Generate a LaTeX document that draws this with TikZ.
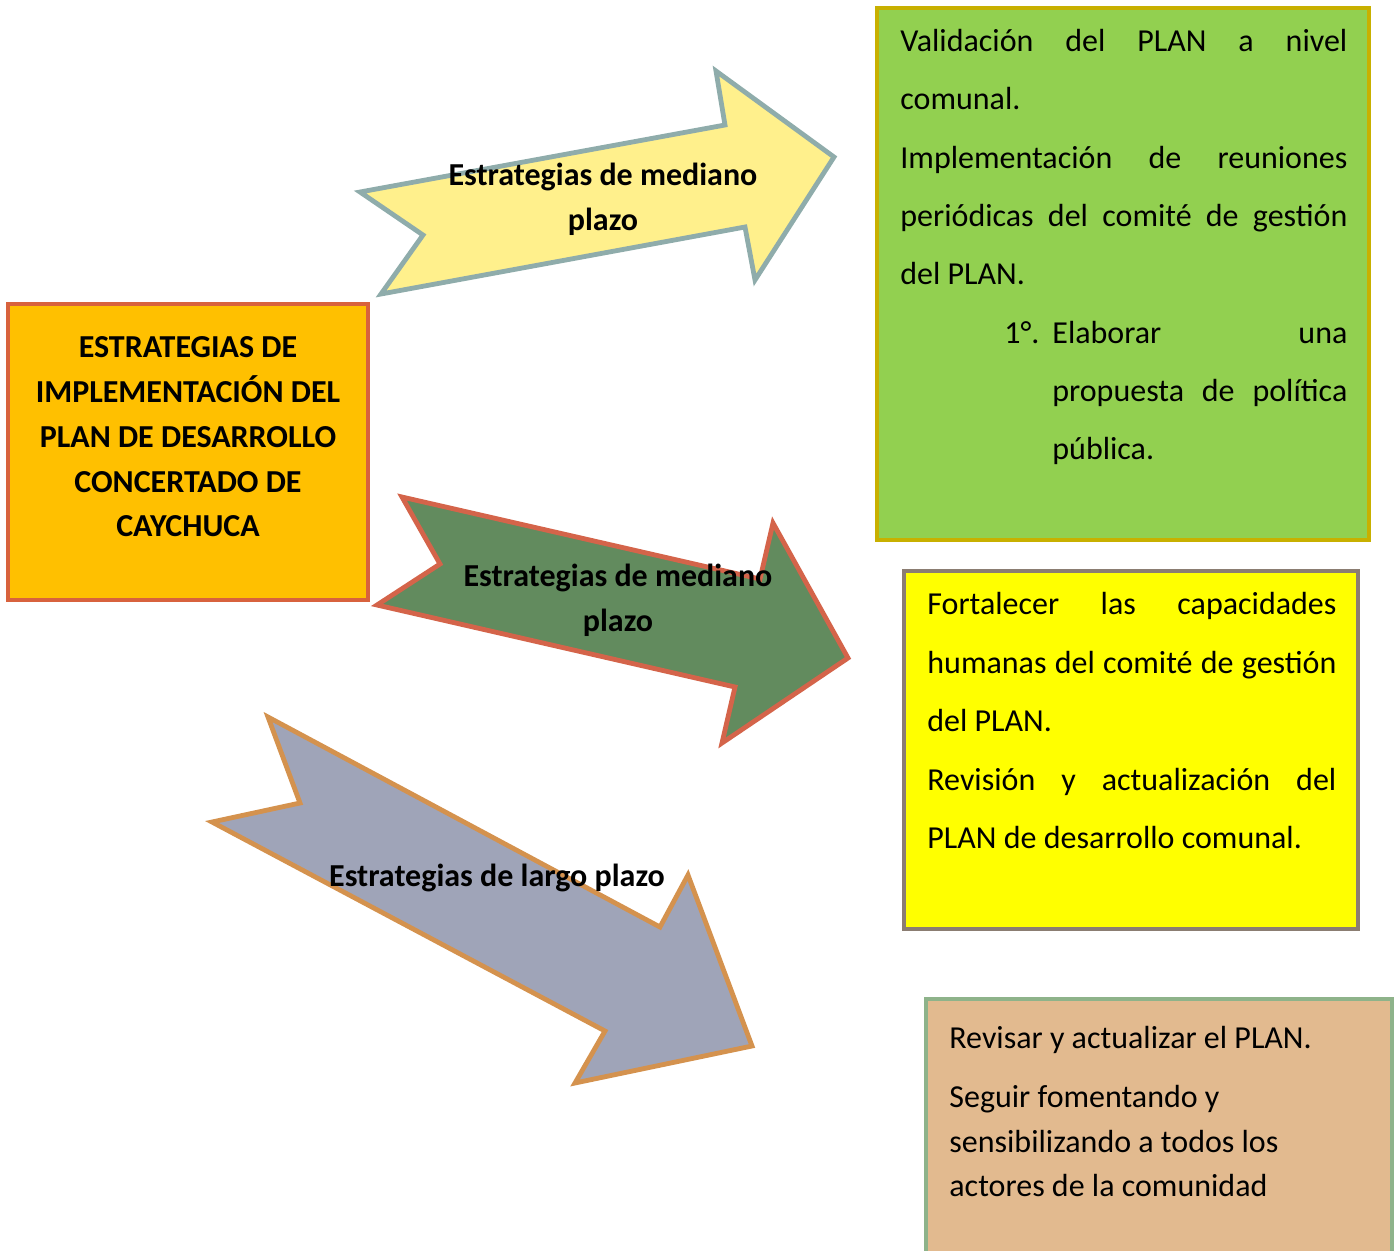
\documentclass[tikz,border=0pt]{standalone}
\usepackage{fontspec}
\setmainfont{Carlito}
\definecolor{yafill}{HTML}{FFF08C}
\definecolor{yaline}{HTML}{8FACAB}
\definecolor{gafill}{HTML}{628B5E}
\definecolor{galine}{HTML}{D4644A}
\definecolor{safill}{HTML}{9FA4B8}
\definecolor{saline}{HTML}{D4924E}
\definecolor{orfill}{HTML}{FFC000}
\definecolor{orline}{HTML}{D8623D}
\definecolor{grfill}{HTML}{92D050}
\definecolor{grline}{HTML}{C8B000}
\definecolor{ybfill}{HTML}{FFFF00}
\definecolor{ybline}{HTML}{8B7D72}
\definecolor{tnfill}{HTML}{E2BA8F}
\definecolor{tnline}{HTML}{8EB38A}
\begin{document}
\begin{tikzpicture}[x=0.5pt,y=-0.5pt,
  txt/.style={inner sep=0pt, anchor=base west, font=\fontsize{16}{19}\selectfont},
  btxt/.style={inner sep=0pt, anchor=base, font=\bfseries\fontsize{16}{19}\selectfont},
  arrowshape/.style={line width=2.4pt, line join=miter},
  boxstyle/.style={line width=2.2pt, inner sep=0pt, outer sep=0pt, anchor=north west}]
\useasboundingbox (0,0) rectangle (1394,1250);
\clip (0,0) rectangle (1394,1250);

% boxes
\node[boxstyle, draw=orline, fill=orfill, minimum width=180pt, minimum height=148pt] (orbox) at (8,304) {};
\node[boxstyle, draw=grline, fill=grfill, minimum width=246pt, minimum height=266pt] (grbox) at (877,8) {};
\node[boxstyle, draw=ybline, fill=ybfill, minimum width=227pt, minimum height=179pt] (ybox) at (904,571) {};
\node[boxstyle, draw=tnline, fill=tnfill, minimum width=233pt, minimum height=140pt] (tnbox) at (926,999) {};

% arrows
\draw[arrowshape, draw=yaline, fill=yafill]
  (360,192) -- (725,125) -- (716,71) -- (834,157) -- (755,280) -- (745,227) -- (381,294) -- (423,235) -- cycle;
\draw[arrowshape, draw=galine, fill=gafill]
  (402,497) -- (760,579) -- (773,523) -- (848,658) -- (722,743) -- (735,687) -- (377,605) -- (440,564) -- cycle;
\draw[arrowshape, draw=saline, fill=safill]
  (268,717) -- (660,927) -- (688,875) -- (752,1046) -- (575,1083) -- (605,1031) -- (212,822) -- (300,803) -- cycle;

% arrow labels
\node[btxt] (ya1) at (603,185) {Estrategias de mediano};
\node[btxt] (ya2) at (603,230) {plazo};
\node[btxt] (ga1) at (618,586) {Estrategias de mediano};
\node[btxt] (ga2) at (618,631) {plazo};
\node[btxt] (sa1) at (497,886) {Estrategias de largo plazo};

% orange box text
\node[btxt] (or1) at (188,357) {ESTRATEGIAS DE};
\node[btxt] (or2) at (188,402) {IMPLEMENTACIÓN DEL};
\node[btxt] (or3) at (188,447) {PLAN DE DESARROLLO};
\node[btxt] (or4) at (188,492) {CONCERTADO DE};
\node[btxt] (or5) at (188,536) {CAYCHUCA};

% green box text
\node[txt] (g1) at (900,51) {\makebox[223.5pt][s]{Validación del PLAN a nivel}};
\node[txt] (g2) at (900,109) {comunal.};
\node[txt] (g3) at (900,168) {\makebox[223.5pt][s]{Implementación de reuniones}};
\node[txt] (g4) at (900,226) {\makebox[223.5pt][s]{periódicas del comité de gestión}};
\node[txt] (g5) at (900,284) {del PLAN.};
\node[txt] (g6n) at (1004,343) {1°.};
\node[txt] (g6) at (1052,343) {\makebox[147.5pt][s]{Elaborar una}};
\node[txt] (g7) at (1052,401) {\makebox[147.5pt][s]{propuesta de política}};
\node[txt] (g8) at (1052,459) {pública.};

% yellow box text
\node[txt] (y1) at (927,614) {\makebox[204.5pt][s]{Fortalecer las capacidades}};
\node[txt] (y2) at (927,673) {\makebox[204.5pt][s]{humanas del comité de gestión}};
\node[txt] (y3) at (927,731) {del PLAN.};
\node[txt] (y4) at (927,790) {\makebox[204.5pt][s]{Revisión y actualización del}};
\node[txt] (y5) at (927,848) {PLAN de desarrollo comunal.};

% tan box text
\node[txt] (t1) at (949,1048) {Revisar y actualizar el PLAN.};
\node[txt] (t2) at (949,1107) {Seguir fomentando y};
\node[txt] (t3) at (949,1152) {sensibilizando a todos los};
\node[txt] (t4) at (949,1196) {actores de la comunidad};
\end{tikzpicture}
\end{document}
